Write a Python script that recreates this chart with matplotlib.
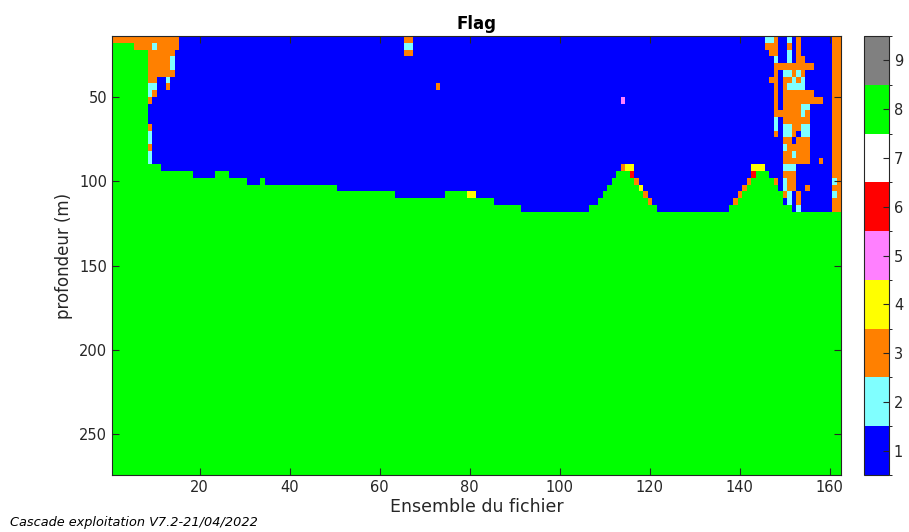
import numpy as np
import matplotlib.pyplot as plt
from matplotlib.colors import ListedColormap, BoundaryNorm

# Grille : ensembles 1..162, cellules de 4 m de 14 a 274 m
n_ens = 162
ens_edges = np.arange(0.5, n_ens + 1)
depth_edges = np.arange(14, 275, 4)

# Profondeur du haut de la zone "fond" (flag 8) par groupe d'ensembles
bottom_runs = [
    (1, 5, 18), (6, 8, 22), (9, 11, 90), (12, 18, 94), (19, 23, 98),
    (24, 26, 94), (27, 30, 98), (31, 33, 102), (34, 34, 98), (35, 50, 102),
    (51, 63, 106), (64, 74, 110), (75, 79, 106), (80, 85, 110), (86, 91, 114),
    (92, 106, 118), (107, 108, 114), (109, 109, 110), (110, 110, 106),
    (111, 111, 102), (112, 112, 98), (113, 115, 94), (116, 116, 98),
    (117, 117, 102), (118, 118, 106), (119, 119, 110), (120, 121, 114),
    (122, 137, 118), (138, 139, 114), (140, 140, 110), (141, 141, 106),
    (142, 142, 102), (143, 143, 98), (144, 146, 94), (147, 147, 98),
    (148, 148, 102), (149, 149, 106), (150, 151, 114), (152, 162, 118),
]

# Cellules particulieres : (ens debut, ens fin, prof. haut, prof. bas, flag)
flag_patches = [
    # debut de fichier
    (1, 15, 14, 18, 3), (6, 15, 18, 22, 3), (10, 10, 18, 22, 2),
    (9, 14, 22, 38, 3), (14, 14, 26, 34, 2),
    (9, 10, 38, 42, 3), (13, 13, 38, 42, 2),
    (9, 10, 42, 46, 2), (13, 13, 42, 46, 3),
    (9, 9, 46, 50, 2), (10, 10, 46, 50, 3), (9, 9, 50, 54, 3),
    (9, 9, 66, 70, 3), (9, 9, 70, 78, 2), (9, 9, 78, 82, 3), (9, 9, 82, 90, 2),
    # milieu
    (66, 67, 14, 18, 3), (66, 67, 18, 22, 2), (66, 67, 22, 26, 3),
    (73, 73, 42, 46, 3), (114, 114, 50, 54, 5), (80, 81, 106, 110, 4),
    # premier pic
    (114, 114, 90, 94, 3), (115, 116, 90, 94, 4), (116, 116, 94, 98, 6),
    (117, 117, 98, 102, 3), (118, 118, 102, 106, 4), (119, 119, 106, 110, 3),
    (120, 120, 110, 114, 3),
    # second pic
    (139, 139, 110, 114, 3), (140, 140, 106, 110, 3), (141, 141, 102, 106, 3),
    (142, 142, 98, 102, 3), (143, 145, 90, 94, 4), (143, 143, 94, 98, 6),
    (148, 148, 98, 102, 3),
    # fin de fichier
    (161, 162, 14, 118, 3), (161, 161, 98, 102, 2), (161, 161, 106, 110, 2),
    (146, 147, 14, 18, 2), (148, 148, 14, 18, 3), (151, 151, 14, 18, 2), (153, 153, 14, 18, 3),
    (146, 148, 18, 22, 3), (151, 151, 18, 22, 3), (153, 153, 18, 22, 3),
    (147, 148, 22, 26, 3), (151, 151, 22, 26, 2), (153, 153, 22, 26, 3),
    (148, 148, 26, 30, 2), (151, 151, 26, 30, 2), (153, 154, 26, 30, 3),
    (148, 156, 30, 34, 3),
    (148, 148, 34, 38, 3), (150, 151, 34, 38, 2), (152, 152, 34, 38, 3),
    (153, 153, 34, 38, 2), (154, 154, 34, 38, 3),
    (147, 148, 38, 42, 3), (150, 151, 38, 42, 3), (152, 152, 38, 42, 2),
    (153, 153, 38, 42, 3), (154, 154, 38, 42, 2),
    (148, 148, 42, 46, 3), (150, 150, 42, 46, 3), (151, 154, 42, 46, 2),
    (148, 148, 46, 50, 3), (150, 156, 46, 50, 3),
    (148, 148, 50, 54, 3), (150, 158, 50, 54, 3),
    (148, 148, 54, 58, 3), (150, 153, 54, 58, 3), (154, 155, 54, 58, 2),
    (148, 149, 58, 62, 3), (150, 153, 58, 62, 3), (154, 154, 58, 62, 2), (155, 155, 58, 62, 3),
    (148, 148, 62, 66, 2), (150, 155, 62, 66, 3),
    (148, 148, 66, 70, 2), (150, 151, 66, 70, 2), (152, 153, 66, 70, 3), (154, 155, 66, 70, 2),
    (148, 148, 70, 74, 3), (150, 151, 70, 74, 2), (152, 152, 70, 74, 3), (154, 155, 70, 74, 2),
    (150, 151, 74, 78, 3), (153, 155, 74, 78, 3),
    (150, 150, 78, 82, 2), (151, 155, 78, 82, 3),
    (150, 151, 82, 86, 3), (152, 152, 82, 86, 2), (153, 155, 82, 86, 3),
    (150, 155, 86, 90, 3), (158, 158, 86, 90, 3),
    (150, 152, 90, 94, 2), (150, 152, 94, 98, 3),
    (150, 150, 98, 102, 2), (151, 152, 98, 102, 3),
    (150, 150, 102, 106, 2), (151, 152, 102, 106, 3), (155, 155, 102, 106, 3),
    (150, 150, 106, 110, 3), (151, 151, 106, 110, 2), (153, 153, 106, 110, 3),
    (151, 151, 110, 114, 2), (153, 153, 110, 114, 3), (153, 153, 114, 118, 2),
]

flag_colors = ['#0000FF', '#80FFFF', '#FF8000', '#FFFF00', '#FF80FF',
               '#FF0000', '#FFFFFF', '#00FF00', '#808080']
flag_ticks = [1, 2, 3, 4, 5, 6, 7, 8, 9]

# Construction de la matrice des flags
depth_top = depth_edges[:-1]
flags = np.ones((len(depth_top), n_ens))
for e0, e1, d in bottom_runs:
    flags[depth_top >= d, e0 - 1:e1] = 8
for e0, e1, d0, d1, f in flag_patches:
    rows = (depth_top >= d0) & (depth_top < d1)
    flags[rows, e0 - 1:e1] = f

cmap = ListedColormap(flag_colors)
norm = BoundaryNorm(np.arange(0.5, 10.5, 1), cmap.N)

fig = plt.figure(figsize=(9.09, 5.32), dpi=100)
ax = fig.add_axes([0.1232, 0.1071, 0.8020, 0.8252])
mesh = ax.pcolormesh(ens_edges, depth_edges, flags, cmap=cmap, norm=norm)
ax.set_xlim(0.5, 162.5)
ax.set_ylim(274, 14)
ax.set_xticks([20, 40, 60, 80, 100, 120, 140, 160])
ax.set_yticks([50, 100, 150, 200, 250])
ax.tick_params(direction='in', top=True, right=True, length=5,
               color='#262626', labelsize=10.5, labelcolor='#262626')
for s in ax.spines.values():
    s.set_color('#262626')
    s.set_linewidth(0.8)
ax.set_title('Flag', fontweight='bold', fontsize=12, pad=5)
ax.set_xlabel('Ensemble du fichier', fontsize=12.5, color='#262626', labelpad=2)
ax.set_ylabel('profondeur (m)', fontsize=12, color='#262626', labelpad=4)

cax = fig.add_axes([0.9505, 0.1071, 0.0275, 0.8252])
cb = fig.colorbar(mesh, cax=cax, ticks=flag_ticks)
cb.ax.tick_params(direction='in', length=4, labelsize=10.5, color='#262626',
                  labelcolor='#262626')
cb.outline.set_edgecolor('#262626')
cb.outline.set_linewidth(0.8)

fig.text(0.011, 0.012, 'Cascade exploitation V7.2-21/04/2022',
         style='italic', fontsize=9.3)

fig.savefig('out.png', dpi=100)
